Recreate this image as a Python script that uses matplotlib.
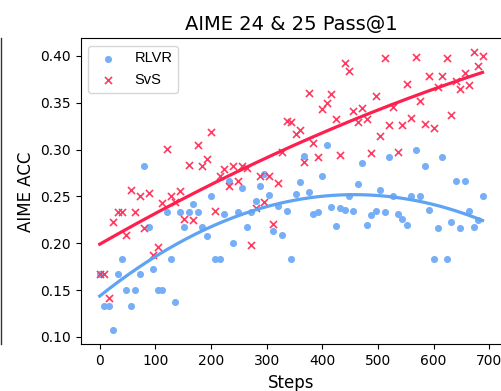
import numpy as np
import matplotlib
matplotlib.use("Agg")
import matplotlib.pyplot as plt
from matplotlib.lines import Line2D

steps = list(range(0, 689, 8))

rlvr = [0.167, 0.133, 0.133, 0.107, 0.167, 0.183, 0.150, 0.133, 0.150, 0.167,
        0.283, 0.217, 0.173, 0.150, 0.150, 0.233, 0.183, 0.137, 0.233, 0.217,
        0.233, 0.242, 0.233, 0.217, 0.208, 0.250, 0.183, 0.183, 0.231, 0.267,
        0.200, 0.233, 0.259, 0.217, 0.233, 0.245, 0.261, 0.274, 0.252, 0.213,
        0.240, 0.209, 0.235, 0.183, 0.253, 0.265, 0.293, 0.255, 0.231, 0.233,
        0.272, 0.305, 0.239, 0.218, 0.238, 0.236, 0.250, 0.234, 0.263, 0.286,
        0.220, 0.230, 0.235, 0.257, 0.233, 0.292, 0.250, 0.231, 0.226, 0.220,
        0.250, 0.300, 0.250, 0.283, 0.236, 0.183, 0.216, 0.292, 0.183, 0.223,
        0.266, 0.216, 0.266, 0.234, 0.217, 0.225, 0.250]

svs = [0.167, 0.167, 0.142, 0.223, 0.233, 0.233, 0.209, 0.257, 0.233, 0.251,
       0.216, 0.254, 0.188, 0.196, 0.243, 0.301, 0.251, 0.244, 0.256, 0.226,
       0.284, 0.225, 0.305, 0.282, 0.290, 0.319, 0.235, 0.272, 0.279, 0.261,
       0.282, 0.267, 0.282, 0.280, 0.198, 0.238, 0.272, 0.244, 0.272, 0.221,
       0.264, 0.298, 0.331, 0.329, 0.317, 0.321, 0.287, 0.360, 0.307, 0.292,
       0.343, 0.350, 0.359, 0.333, 0.294, 0.392, 0.384, 0.341, 0.330, 0.344,
       0.333, 0.296, 0.357, 0.315, 0.398, 0.326, 0.345, 0.298, 0.326, 0.370,
       0.334, 0.399, 0.352, 0.327, 0.379, 0.323, 0.367, 0.379, 0.398, 0.337,
       0.373, 0.365, 0.382, 0.369, 0.404, 0.389, 0.400]

labels = ["RLVR", "SvS"]
title = "AIME 24 & 25 Pass@1"
xlabel = "Steps"
ylabel = "AIME ACC"

blue_pt = "#76aef8"
red_pt = "#ff3a60"
blue_line = "#5ea3f4"
red_line = "#ff1f4e"

fig = plt.figure(figsize=(5.02, 3.91), dpi=100)
ax = fig.add_axes([0.1606, 0.1194, 0.8387, 0.7826])

x = np.array(steps, dtype=float)
r = np.array(rlvr)
s = np.array(svs)

ax.scatter(x, r, s=26, color=blue_pt, marker="o", linewidths=0, label=labels[0], zorder=2)
ax.scatter(x, s, s=26, color=red_pt, marker="x", linewidths=1.2, label=labels[1], zorder=2)

xs = np.linspace(x.min(), x.max(), 200)
pr = np.polyfit(x, r, 2)
ps = np.polyfit(x, s, 2)
ax.plot(xs, np.polyval(pr, xs), color=blue_line, lw=2.3, zorder=3)
ax.plot(xs, np.polyval(ps, xs), color=red_line, lw=2.3, zorder=3)

ax.set_xticks(range(0, 701, 100))
ax.set_yticks([0.10, 0.15, 0.20, 0.25, 0.30, 0.35, 0.40])
ax.set_yticklabels(["0.10", "0.15", "0.20", "0.25", "0.30", "0.35", "0.40"])
ax.tick_params(labelsize=10)
ax.set_title(title, fontsize=14, pad=6)
ax.set_xlabel(xlabel, fontsize=12, labelpad=4)
ax.set_ylabel(ylabel, fontsize=12)
ax.legend(loc="upper left", prop={"family": "Liberation Sans", "size": 10.5})

# right spine of a neighbouring panel, cut off at the left edge
fig.add_artist(Line2D([0.001, 0.001], [0.1194, 0.902], transform=fig.transFigure,
                      color="#333333", lw=1.0))

fig.savefig("out.png", dpi=100)
